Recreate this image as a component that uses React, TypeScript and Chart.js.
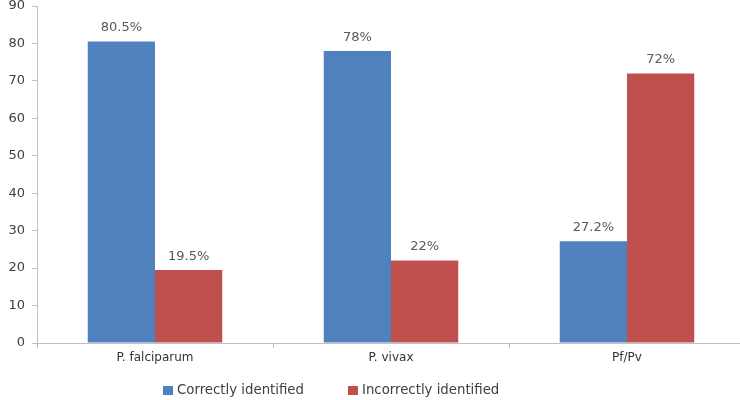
import React, { useEffect, useRef } from "react";
import { Chart, registerables } from "chart.js";

Chart.register(...registerables);

const categories = ["P. falciparum", "P. vivax", "Pf/Pv"];
const correctValues = [80.5, 78, 27.2];
const incorrectValues = [19.5, 22, 72];
const correctLabels = ["80.5%", "78%", "27.2%"];
const incorrectLabels = ["19.5%", "22%", "72%"];
const seriesNames = ["Correctly identified", "Incorrectly identified"];
const yTicks = [0, 10, 20, 30, 40, 50, 60, 70, 80, 90];

const BLUE = "#4f81bd";
const RED = "#c0504d";
const AXIS = "#bfbfbf";
const FONT = "'DejaVu Sans', Verdana, sans-serif";

const valueLabelPlugin = {
  id: "valueLabels",
  afterDatasetsDraw(chart: any) {
    const ctx = chart.ctx;
    ctx.save();
    ctx.font = `13px ${FONT}`;
    ctx.fillStyle = "#595959";
    ctx.textAlign = "center";
    ctx.textBaseline = "bottom";
    chart.data.datasets.forEach((ds: any, di: number) => {
      const meta = chart.getDatasetMeta(di);
      meta.data.forEach((bar: any, i: number) => {
        ctx.fillText(ds.valueLabels[i], bar.x, bar.y - 7);
      });
    });
    ctx.restore();
  },
};

const legendPlugin = {
  id: "customLegend",
  afterDraw(chart: any) {
    const ctx = chart.ctx;
    ctx.save();
    ctx.font = `13.3px ${FONT}`;
    ctx.textBaseline = "middle";
    ctx.textAlign = "left";
    const y = 391;
    let x = 163;
    chart.data.datasets.forEach((ds: any) => {
      ctx.fillStyle = ds.backgroundColor;
      ctx.fillRect(x, y - 5, 10, 9);
      x += 14;
      ctx.fillStyle = "#404040";
      ctx.fillText(ds.label, x, y);
      x += ctx.measureText(ds.label).width + 44;
    });
    ctx.restore();
  },
};

export default function App() {
  const ref = useRef<HTMLCanvasElement | null>(null);

  useEffect(() => {
    if (!ref.current) return;
    const chart = new Chart(ref.current, {
      type: "bar",
      data: {
        labels: categories,
        datasets: [
          {
            label: seriesNames[0],
            data: correctValues,
            backgroundColor: BLUE,
            valueLabels: correctLabels,
          } as any,
          {
            label: seriesNames[1],
            data: incorrectValues,
            backgroundColor: RED,
            valueLabels: incorrectLabels,
          } as any,
        ],
      },
      options: {
        animation: false,
        responsive: false,
        devicePixelRatio: 1,
        layout: { padding: { top: 6, right: 3, bottom: 0, left: 0 } },
        datasets: { bar: { barPercentage: 1, categoryPercentage: 0.57 } },
        plugins: {
          legend: { display: false },
          tooltip: { enabled: false },
        },
        scales: {
          x: {
            grid: {
              offset: true,
              drawOnChartArea: false,
              drawTicks: true,
              tickLength: 5,
              color: AXIS,
            },
            border: { color: AXIS },
            ticks: {
              font: { family: FONT, size: 12 },
              color: "#333333",
              padding: 3,
              maxRotation: 0,
            },
            afterFit(scale: any) {
              scale.height = 57;
              scale.paddingLeft = 0;
              scale.paddingRight = 0;
            },
          },
          y: {
            min: 0,
            max: 90,
            afterBuildTicks(scale: any) {
              scale.ticks = yTicks.map((v) => ({ value: v }));
            },
            grid: {
              drawOnChartArea: false,
              drawTicks: true,
              tickLength: 5,
              color: AXIS,
            },
            border: { color: AXIS },
            ticks: {
              font: { family: FONT, size: 13 },
              color: "#404040",
              padding: 7,
            },
            afterFit(scale: any) {
              scale.width = 37;
              scale.paddingTop = 0;
              scale.paddingBottom = 0;
            },
          },
        },
      },
      plugins: [valueLabelPlugin, legendPlugin],
    });
    return () => chart.destroy();
  }, []);

  return (
    <div
      style={{
        position: "absolute",
        left: 0,
        top: 0,
        width: 740,
        height: 400,
        overflow: "hidden",
        background: "#ffffff",
      }}
    >
      <canvas ref={ref} width={748} height={400} style={{ display: "block" }} />
    </div>
  );
}
